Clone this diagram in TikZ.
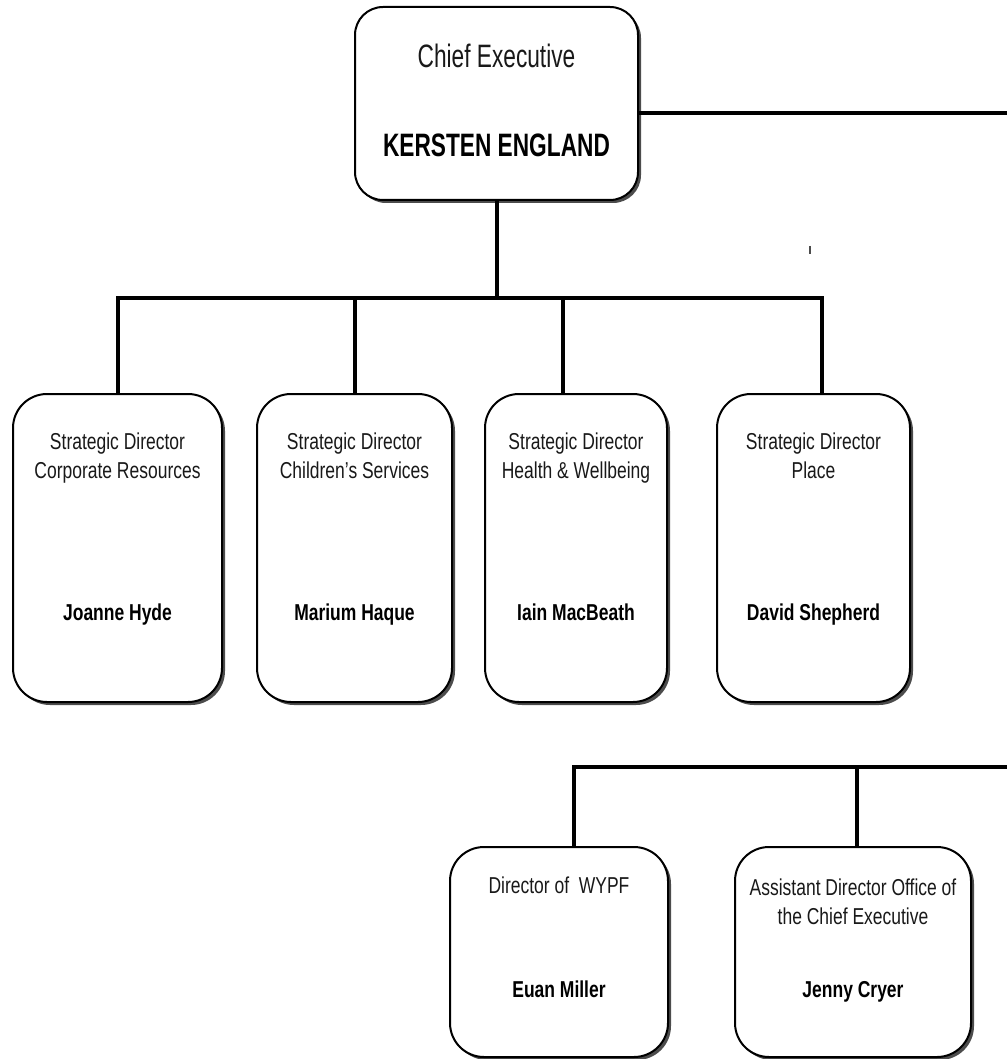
\documentclass[tikz,border=0pt]{standalone}
\usepackage{fontspec}
\setmainfont[FakeStretch=0.76]{Liberation Sans}
\newfontfamily\headfont[FakeStretch=0.7]{Liberation Sans}
\usetikzlibrary{shadows}
\begin{document}
\begin{tikzpicture}[x=0.5pt,y=-0.5pt]
        \tikzset{box/.style={draw,line width=1pt,rounded corners=17pt,fill=white,inner sep=0pt,anchor=base,
                drop shadow={shadow xshift=1.5pt,shadow yshift=-1.5pt,fill=black!70,opacity=1},
                font=\fontsize{11.5}{14.5}\selectfont,text=black!90},
            director/.style={box,text height=27.5pt,text depth=126.5pt},
            link/.style={draw,line width=2pt}}
        \useasboundingbox (0,0) rectangle (1007,1059);
        \coordinate (bus) at (496.5,298);
        \coordinate (ce-r) at (1007,113);
        \coordinate (sub-r) at (1007,767);
        \node[box,minimum width=141.5pt,text height=30.5pt,text depth=66pt,rounded corners=14pt,
            font=\headfont\fontsize{16.2}{18.5}\selectfont] (ce) at (496.5,68)
            {\begin{tabular}[t]{c}Chief Executive\\[26pt]\textcolor{black}{\textbf{KERSTEN ENGLAND}}\end{tabular}};
        \node[director,minimum width=104.5pt] (cr) at (117.5,449)
            {\begin{tabular}[t]{c}Strategic Director\\Corporate Resources\\[56.5pt]\textcolor{black}{\textbf{Joanne Hyde}}\end{tabular}};
        \node[director,minimum width=97.5pt] (cs) at (354.5,449)
            {\begin{tabular}[t]{c}Strategic Director\\Children's Services\\[56.5pt]\textcolor{black}{\textbf{Marium Haque}}\end{tabular}};
        \node[director,minimum width=91pt] (hw) at (576,449)
            {\begin{tabular}[t]{c}Strategic Director\\Health \& Wellbeing\\[56.5pt]\textcolor{black}{\textbf{Iain MacBeath}}\end{tabular}};
        \node[director,minimum width=96.5pt] (pl) at (813.5,449)
            {\begin{tabular}[t]{c}Strategic Director\\Place\\[56.5pt]\textcolor{black}{\textbf{David Shepherd}}\end{tabular}};
        \node[box,minimum width=109pt,text height=23pt,text depth=82pt] (wy) at (559,893)
            {\begin{tabular}[t]{c}Director of\ \ WYPF\\[37.5pt]\textcolor{black}{\textbf{Euan Miller}}\end{tabular}};
        \node[box,minimum width=118pt,text height=24pt,text depth=81pt] (ac) at (853,895)
            {\begin{tabular}[t]{c}Assistant Director Office of\\the Chief Executive\\[22pt]\textcolor{black}{\textbf{Jenny Cryer}}\end{tabular}};
        \draw[link] (ce.east |- ce-r) -- (ce-r);
        \draw[link] (ce.south) -- (bus);
        \draw[link] (cr.north) |- (bus) -| ([xshift=4.25pt]pl.north);
        \draw[link] (cs.north) -- (cs.north |- bus);
        \draw[link] ([xshift=-6.5pt]hw.north) -- ([xshift=-6.5pt]hw.north |- bus);
        \draw[link] ([xshift=7.5pt]wy.north) |- (sub-r);
        \draw[link] ([xshift=2pt]ac.north) -- ([xshift=2pt]ac.north |- sub-r);
        \draw[line width=1pt,black!70] (810,246) -- (810,254);
    \end{tikzpicture}
\end{document}
